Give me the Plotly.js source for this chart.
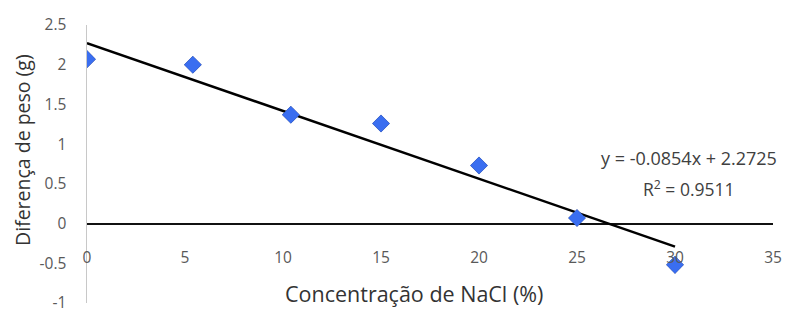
<!DOCTYPE html>
<html>
<head>
<meta charset="utf-8">
<script src="https://cdn.plot.ly/plotly-3.0.1.min.js"></script>
<style>html,body{margin:0;padding:0;background:#fff;}#chart{width:797px;height:314px;}</style>
</head>
<body>
<div id="chart"></div>
<script>
// Data
var concentracao = [0, 5.4, 10.4, 15, 20, 25, 30];
var diferencaPeso = [2.07, 2.0, 1.37, 1.26, 0.73, 0.07, -0.52];
var trendX = [0, 30];
var trendY = [2.2725, -0.2895];
var xTicks = [0, 5, 10, 15, 20, 25, 30, 35];
var yTicks = [-1, -0.5, 0, 0.5, 1, 1.5, 2, 2.5];
var xTitle = 'Concentração de NaCl (%)';
var yTitle = 'Diferença de peso (g)';
var equationText = 'y = -0.0854x + 2.2725';
var r2Text = 'R<sup>2</sup> = 0.9511';

var W = 797, H = 314;
var L = 87, R = 24, T = 25, B = 11;
var pw = W - L - R, ph = H - T - B;
var sx = 1.5 / pw, sy = 1.5 / ph;

var font = 'Open Sans, Noto Sans, sans-serif';

var traces = [
  {x: trendX, y: trendY, mode: 'lines', type: 'scatter', line: {color: '#000000', width: 2.5},
   showlegend: false, hoverinfo: 'skip'},
  {x: concentracao, y: diferencaPeso, xaxis: 'x2', yaxis: 'y2', mode: 'markers', type: 'scatter',
   marker: {symbol: 'diamond', size: 13.5, color: '#1b2552'}, hoverinfo: 'skip', showlegend: false},
  {x: concentracao, y: diferencaPeso, xaxis: 'x3', yaxis: 'y3', mode: 'markers', type: 'scatter',
   marker: {symbol: 'diamond', size: 13.5, color: '#3a6ef0'}, showlegend: false}
];

var layout = {
  width: W, height: H,
  margin: {l: L, r: R, t: T, b: B},
  paper_bgcolor: '#ffffff', plot_bgcolor: 'rgba(0,0,0,0)',
  font: {family: font, color: '#595959', size: 13},
  xaxis: {
    range: [0, 35], tickvals: xTicks, ticktext: xTicks.map(String),
    anchor: 'free', position: 0.205, showline: false, showgrid: false,
    zeroline: false, ticks: '', tickfont: {size: 15.5, color: '#595959'},
    automargin: false, fixedrange: true
  },
  yaxis: {
    range: [-1, 2.5], tickvals: yTicks, ticktext: yTicks.map(String),
    showline: true, linecolor: '#c8c8c8', linewidth: 1.5, showgrid: false,
    zeroline: true, zerolinecolor: '#111111', zerolinewidth: 2,
    ticks: '', ticklabelstandoff: 16, tickfont: {size: 15.5, color: '#595959'},
    automargin: false, fixedrange: true
  },
  xaxis2: {range: [0, 35], domain: [sx, 1 + sx], anchor: 'y2', visible: false, overlaying: 'x'},
  yaxis2: {range: [-1, 2.5], domain: [0, 1 - sy], anchor: 'x2', visible: false, overlaying: 'y'},
  xaxis3: {range: [0, 35], domain: [0, 1], anchor: 'y3', visible: false, overlaying: 'x'},
  yaxis3: {range: [-1, 2.5], domain: [0, 1], anchor: 'x3', visible: false, overlaying: 'y'},
  annotations: [
    {x: (414 - L) / pw, y: (T + ph - 293) / ph, xref: 'paper', yref: 'paper',
     xanchor: 'center', yanchor: 'middle', text: xTitle,
     showarrow: false, font: {size: 21.5, color: '#333333', family: font}},
    {x: (22 - L) / pw, y: (T + ph - 150) / ph, xref: 'paper', yref: 'paper',
     xanchor: 'center', yanchor: 'middle', text: yTitle,
     textangle: -90, showarrow: false, font: {size: 19.5, color: '#333333', family: font}},
    {x: 30.7, y: 0.82, xref: 'x', yref: 'y', text: equationText, showarrow: false,
     font: {size: 18, color: '#404040', family: font}},
    {x: 30.7, y: 0.44, xref: 'x', yref: 'y', text: r2Text, showarrow: false,
     font: {size: 17.5, color: '#404040', family: font}}
  ]
};

Plotly.newPlot('chart', traces, layout, {displayModeBar: false, staticPlot: true});
</script>
</body>
</html>
